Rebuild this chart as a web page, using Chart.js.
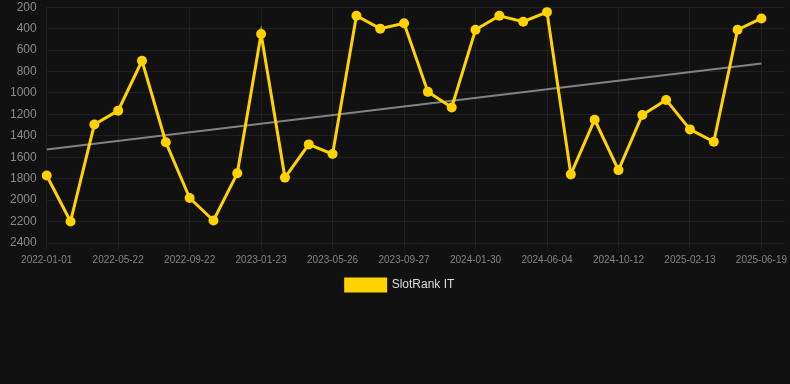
<!DOCTYPE html>
<html>
<head>
<meta charset="utf-8">
<script src="https://cdn.jsdelivr.net/npm/chart.js@4"></script>
<style>
  html, body { margin: 0; padding: 0; background: #111111; }
  #wrap { width: 790px; height: 384px; }
</style>
</head>
<body>
<div id="wrap"><canvas id="myChart"></canvas></div>
<script>
// data
const dates = [
  '2022-01-01', '2022-02-17', '2022-04-05', '2022-05-22', '2022-07-02', '2022-08-12',
  '2022-09-22', '2022-11-02', '2022-12-13', '2023-01-23', '2023-03-05', '2023-04-15',
  '2023-05-26', '2023-07-06', '2023-08-16', '2023-09-27', '2023-11-07', '2023-12-19',
  '2024-01-30', '2024-03-11', '2024-04-23', '2024-06-04', '2024-07-17', '2024-08-30',
  '2024-10-12', '2024-11-22', '2025-01-03', '2025-02-13', '2025-03-27', '2025-05-08',
  '2025-06-19', ''
]
const slotRank = [
  1770, 2200, 1295, 1165, 700, 1460, 1980, 2190, 1750, 450, 1790, 1480,
  1570, 280, 400, 350, 990, 1135, 410, 280, 335, 245, 1760, 1250,
  1720, 1205, 1065, 1340, 1455, 410, 305, null
]
const trendStart = 1528
const trendEnd = 726
const yTicks = [200, 400, 600, 800, 1000, 1200, 1400, 1600, 1800, 2000, 2200, 2400]

const trend = dates.map(() => null)
trend[0] = trendStart
trend[slotRank.filter(v => v != null).length - 1] = trendEnd

const ctx = document.getElementById('myChart').getContext('2d');
const myChart = new Chart(ctx, {
    type: 'line',
    data: {
        labels: dates,
        datasets: [{
            label: 'SlotRank IT',
            data: slotRank,
            borderColor: '#ffd200',
            backgroundColor: '#ffd200',
            borderWidth: 3,
            pointRadius: 5,
            pointBackgroundColor: '#ffd200',
            pointBorderWidth: 0,
            tension: 0,
        }, {
            label: 'trend',
            data: trend,
            borderColor: 'rgba(150,150,150,0.85)',
            borderWidth: 2,
            pointRadius: 0,
            spanGaps: true,
        }]
    },
    options: {
        responsive: true,
        maintainAspectRatio: false,
        animation: false,
        events: [],
        layout: {
            autoPadding: false,
            padding: { left: 10, right: 0, top: 0, bottom: 83 }
        },
        scales: {
            x: {
                grid: { color: 'rgba(255,255,255,0.06)', tickColor: 'rgba(255,255,255,0.06)' },
                border: { display: false },
                ticks: {
                    color: '#858585',
                    font: { family: 'Liberation Sans', size: 10 },
                    maxRotation: 0,
                    autoSkip: true,
                }
            },
            y: {
                reverse: true,
                min: 200,
                max: 2400,
                afterBuildTicks: axis => { axis.ticks = yTicks.map(v => ({ value: v })) },
                grid: {
                    color: 'rgba(255,255,255,0.06)',
                    drawTicks: true,
                    tickLength: 10,
                    tickColor: 'rgba(0,0,0,0)',
                },
                border: { display: false },
                ticks: {
                    color: '#8c8c8c',
                    padding: 0,
                    font: { family: 'Liberation Sans', size: 12 },
                    callback: v => String(v),
                }
            }
        },
        plugins: {
            legend: {
                position: 'bottom',
                labels: {
                    color: '#dddddd',
                    boxWidth: 40,
                    boxHeight: 12,
                    font: { family: 'Liberation Sans', size: 12 },
                    filter: item => item.datasetIndex === 0,
                }
            },
            tooltip: { enabled: false }
        }
    }
});
</script>
</body>
</html>
